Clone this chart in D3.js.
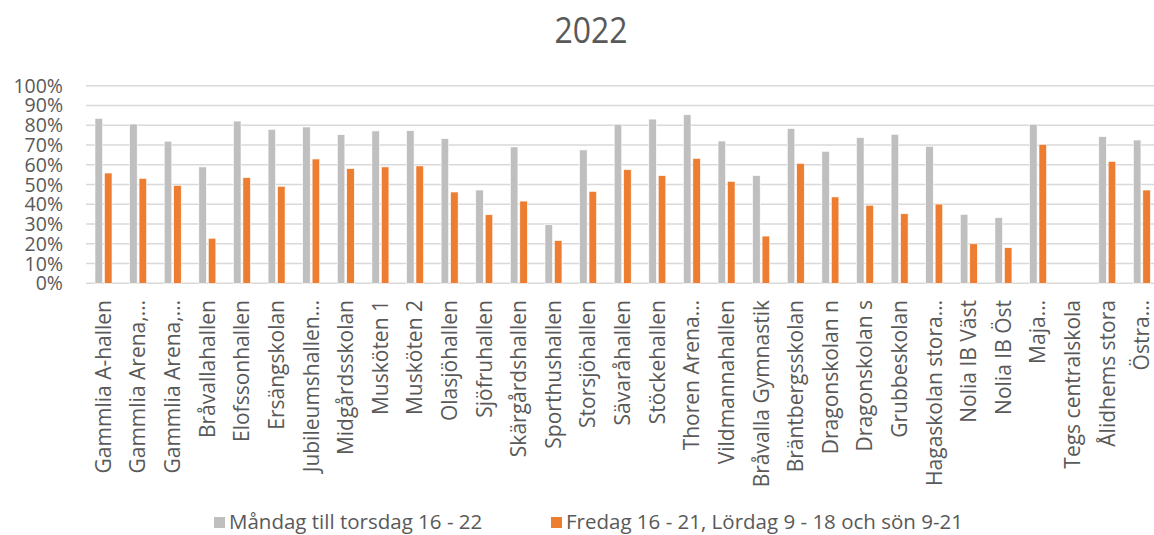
<!DOCTYPE html>
<html>
<head>
<meta charset="utf-8">
<script src="https://cdn.jsdelivr.net/npm/d3@7"></script>
<style>
  body { margin: 0; background: #fff; }
  svg { display: block; }
  text { font-family: "Open Sans", "DejaVu Sans", sans-serif; fill: #595959; }
</style>
</head>
<body>
<svg id="chart" width="1154" height="535"></svg>
<script>
var title = "2022";

var categories = [
  "Gammlia A-hallen", "Gammlia Arena,…", "Gammlia Arena,…", "Bråvallahallen",
  "Elofssonhallen", "Ersängskolan", "Jubileumshallen…", "Midgårdsskolan",
  "Musköten 1", "Musköten 2", "Olasjöhallen", "Sjöfruhallen",
  "Skärgårdshallen", "Sporthushallen", "Storsjöhallen", "Sävaråhallen",
  "Stöckehallen", "Thoren Arena…", "Vildmannahallen", "Bråvalla Gymnastik",
  "Bräntbergsskolan", "Dragonskolan n", "Dragonskolan s", "Grubbeskolan",
  "Hagaskolan stora…", "Nolia IB Väst", "Nolia IB Öst", "Maja…",
  "Tegs centralskola", "Ålidhems stora", "Östra…"
];

var seriesNames = ["Måndag till torsdag 16 - 22", "Fredag 16 - 21, Lördag 9 - 18 och sön 9-21"];
var seriesColors = ["#BFBFBF", "#ED7D31"];

var weekdays = [
  0.835, 0.806, 0.719, 0.589, 0.821, 0.779, 0.791, 0.752, 0.771, 0.772,
  0.732, 0.472, 0.690, 0.297, 0.675, 0.805, 0.831, 0.853, 0.720, 0.545,
  0.783, 0.668, 0.737, 0.754, 0.693, 0.349, 0.332, 0.805, null, 0.742, 0.725
];
var weekend = [
  0.558, 0.531, 0.496, 0.228, 0.535, 0.491, 0.629, 0.580, 0.589, 0.594,
  0.462, 0.347, 0.416, 0.216, 0.465, 0.575, 0.545, 0.632, 0.516, 0.239,
  0.607, 0.437, 0.395, 0.352, 0.401, 0.200, 0.180, 0.703, null, 0.617, 0.472
];

var yTicks = [0, 0.1, 0.2, 0.3, 0.4, 0.5, 0.6, 0.7, 0.8, 0.9, 1.0];

var svg = d3.select("#chart");

var x = d3.scaleBand().domain(d3.range(categories.length)).range([86, 1159]);
var xs = d3.scaleBand().domain([0, 1]).range([9, 26]).paddingInner(0.2);
var y = d3.scaleLinear().domain([0, 1]).range([283.3, 85.7]);

// title
svg.append("text")
  .attr("transform", "translate(591,43) scale(1,1.15)")
  .attr("text-anchor", "middle")
  .attr("font-size", 32)
  .text(title);

// gridlines
svg.append("g").selectAll("line")
  .data(yTicks)
  .enter().append("line")
  .attr("x1", 86).attr("x2", 1159)
  .attr("y1", function(d){ return y(d); })
  .attr("y2", function(d){ return y(d); })
  .style("stroke", "#D9D9D9")
  .style("stroke-width", "1.5px");

// y labels
svg.append("g").selectAll("text")
  .data(yTicks)
  .enter().append("text")
  .attr("x", 63)
  .attr("y", function(d){ return y(d); })
  .attr("dy", "0.36em")
  .attr("text-anchor", "end")
  .attr("font-size", 19.5)
  .text(d3.format(".0%"));

// bars
var series = [weekdays, weekend];
var groups = svg.append("g").selectAll("g")
  .data(series)
  .enter().append("g")
  .style("fill", function(d, i){ return seriesColors[i]; });

groups.each(function(vals, s){
  d3.select(this).selectAll("rect")
    .data(vals.map(function(v, i){ return {i: i, v: v}; }).filter(function(d){ return d.v != null; }))
    .enter().append("rect")
    .attr("x", function(d){ return x(d.i) + xs(s); })
    .attr("width", xs.bandwidth())
    .attr("y", function(d){ return y(d.v); })
    .attr("height", function(d){ return y(0) - y(d.v); })
    .style("stroke", "#fff")
    .style("stroke-width", "0.6px");
});

// category labels
svg.append("g").selectAll("text")
  .data(categories)
  .enter().append("text")
  .attr("transform", function(d, i){
    return "translate(" + (x(i) + x.bandwidth() / 2) + ",300) rotate(-90)";
  })
  .attr("dy", "0.36em")
  .attr("text-anchor", "end")
  .attr("font-size", 21)
  .text(function(d){ return d; });

// legend
var legendX = [214, 551];
var lg = svg.append("g").selectAll("g")
  .data(seriesNames)
  .enter().append("g")
  .attr("transform", function(d, i){ return "translate(" + legendX[i] + ",0)"; });
lg.append("rect")
  .attr("x", 0).attr("y", 517)
  .attr("width", 11).attr("height", 11)
  .style("fill", function(d, i){ return seriesColors[i]; });
lg.append("text")
  .attr("x", 15).attr("y", 529)
  .attr("font-size", 20.5)
  .text(function(d){ return d; });
</script>
</body>
</html>
